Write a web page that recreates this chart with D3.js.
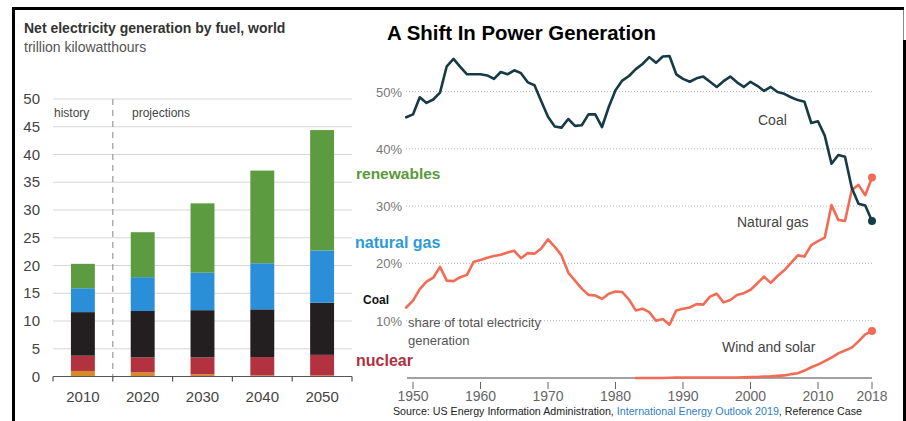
<!DOCTYPE html>
<html>
<head>
<meta charset="utf-8">
<script src="https://cdn.jsdelivr.net/npm/d3@7"></script>
<style>
  html, body { margin: 0; padding: 0; background: #fff; }
  svg { display: block; font-family: "Liberation Sans", Arial, sans-serif; }
</style>
</head>
<body>
<svg id="chart" width="906" height="421"></svg>
<script>
// ---- Left panel: net electricity generation by fuel, world (trillion kWh)
const barYears = ["2010", "2020", "2030", "2040", "2050"];
const fuelKeys = ["other", "nuclear", "coal", "naturalGas", "renewables"];
const otherVals      = [1.0, 0.75, 0.4, 0.2, 0.2];
const nuclearVals    = [2.75, 2.7, 3.05, 3.3, 3.7];
const coalVals       = [7.85, 8.35, 8.5, 8.6, 9.4];
const naturalGasVals = [4.3, 6.1, 6.75, 8.3, 9.4];
const renewableVals  = [4.4, 8.1, 12.5, 16.7, 21.7];
const barTicks = [0, 5, 10, 15, 20, 25, 30, 35, 40, 45, 50];

// ---- Right panel: US share of total electricity generation (%)
const coalStart = 1949;
const coalShare = [
  45.5, 46.0, 49.0, 48.0, 48.6, 49.8, 54.4, 55.7, 54.3, 53.0,
  53.0, 53.0, 52.8, 52.2, 53.4, 53.0, 53.7, 53.2, 51.6, 51.1,
  48.3, 45.6, 43.9, 43.7, 45.2, 44.0, 44.1, 46.0, 46.0, 43.8,
  47.3, 50.2, 51.9, 52.7, 53.9, 54.8, 56.0, 55.0, 56.1, 56.2,
  53.0, 52.2, 51.7, 52.3, 52.6, 51.7, 50.8, 51.8, 52.6, 51.6,
  50.8, 51.7, 51.0, 50.1, 50.8, 49.9, 49.6, 49.0, 48.5, 48.2,
  44.5, 44.8, 42.3, 37.4, 38.9, 38.6, 33.2, 30.4, 30.1, 27.4
];
const gasStart = 1949;
const gasShare = [
  12.3, 13.5, 15.5, 16.8, 17.5, 19.4, 17.0, 16.9, 17.6, 18.0,
  20.3, 20.6, 21.0, 21.3, 21.5, 21.9, 22.2, 20.9, 21.8, 21.7,
  22.6, 24.2, 22.9, 21.4, 18.4, 17.0, 15.6, 14.5, 14.4, 13.8,
  14.7, 15.1, 15.0, 13.7, 11.8, 12.1, 11.5, 10.0, 10.3, 9.3,
  11.8, 12.1, 12.3, 12.9, 12.8, 14.2, 14.7, 13.2, 13.6, 14.5,
  14.8, 15.4, 16.5, 17.7, 16.6, 17.8, 18.8, 20.1, 21.4, 21.2,
  23.2, 23.9, 24.5, 30.2, 27.6, 27.4, 32.8, 33.7, 31.9, 35.0
];
const windSolarStart = 1983;
const windSolarShare = [
  0.0, 0.0, 0.0, 0.0, 0.0, 0.05, 0.06, 0.08, 0.09, 0.1,
  0.1, 0.1, 0.1, 0.1, 0.1, 0.1, 0.12, 0.15, 0.18, 0.27,
  0.29, 0.37, 0.45, 0.67, 0.82, 1.3, 1.87, 2.35, 2.95, 3.56,
  4.3, 4.8, 5.3, 6.4, 7.6, 8.2
];
const shareTicks = [10, 20, 30, 40, 50];
const yearTicks = [1950, 1960, 1970, 1980, 1990, 2000, 2010, 2018];

const svg = d3.select("#chart");

// ================= Left panel =================
const fuelColor = d3.scaleOrdinal()
  .domain(fuelKeys)
  .range(["#d88a2b", "#b3323f", "#231f20", "#2a8fd8", "#5c9b3f"]);

const barRows = barYears.map((y, i) => ({
  year: y,
  other: otherVals[i],
  nuclear: nuclearVals[i],
  coal: coalVals[i],
  naturalGas: naturalGasVals[i],
  renewables: renewableVals[i]
}));
const stacked = d3.stack().keys(fuelKeys)(barRows);

const bx = d3.scaleBand().domain(barYears).range([53, 352])
  .paddingInner(0.6).paddingOuter(0.3);
const by = d3.scaleLinear().domain([0, 50]).range([376.5, 99]);

const left = svg.append("g");

left.append("text").attr("x", 24).attr("y", 33)
  .attr("font-size", 14).attr("font-weight", "bold").attr("fill", "#333")
  .text("Net electricity generation by fuel, world");
left.append("text").attr("x", 24).attr("y", 52)
  .attr("font-size", 14).attr("fill", "#555")
  .text("trillion kilowatthours");

// gridlines
left.append("g").selectAll("line").data(barTicks.filter(t => t > 0)).join("line")
  .attr("x1", 53).attr("x2", 352)
  .attr("y1", d => by(d)).attr("y2", d => by(d))
  .attr("stroke", "#d6d6d6").attr("stroke-width", 1);

// tick labels
left.append("g").selectAll("text").data(barTicks).join("text")
  .attr("x", 40).attr("y", d => by(d) + 5)
  .attr("text-anchor", "end").attr("font-size", 15).attr("fill", "#444")
  .text(d => d);

// history / projections divider
const step = bx.step();
const divX = bx("2020") - step * 0.3;
left.append("line")
  .attr("x1", divX).attr("x2", divX).attr("y1", 99).attr("y2", 376.5)
  .attr("stroke", "#999").attr("stroke-width", 1.2).attr("stroke-dasharray", "6,5");
left.append("text").attr("x", 54).attr("y", 117).attr("font-size", 12).attr("fill", "#444").text("history");
left.append("text").attr("x", 132).attr("y", 117).attr("font-size", 12).attr("fill", "#444").text("projections");

// stacked bars
left.append("g").selectAll("g").data(stacked).join("g")
  .attr("fill", d => fuelColor(d.key))
  .selectAll("rect").data(d => d).join("rect")
  .attr("x", d => bx(d.data.year))
  .attr("width", bx.bandwidth())
  .attr("y", d => by(d[1]))
  .attr("height", d => by(d[0]) - by(d[1]));

// x axis
left.append("line").attr("x1", 53).attr("x2", 352)
  .attr("y1", by(0)).attr("y2", by(0)).attr("stroke", "#555").attr("stroke-width", 1.2);
const bounds = barYears.map(y => bx(y) - step * 0.3).concat([bx(barYears[barYears.length - 1]) + bx.bandwidth() + step * 0.3]);
left.append("g").selectAll("line").data(bounds).join("line")
  .attr("x1", d => d).attr("x2", d => d)
  .attr("y1", by(0)).attr("y2", by(0) + 5)
  .attr("stroke", "#555").attr("stroke-width", 1.2);
left.append("g").selectAll("text").data(barYears).join("text")
  .attr("x", d => bx(d) + bx.bandwidth() / 2).attr("y", 402)
  .attr("text-anchor", "middle").attr("font-size", 15).attr("fill", "#444")
  .text(d => d);

// ================= Right panel =================
const right = svg.append("g");
const rx = d3.scaleLinear().domain([1950, 2018]).range([413, 872]);
const ry = d3.scaleLinear().domain([0, 50]).range([378, 91.5]);

// fuel legend for the bars
const legend = [
  { text: "renewables", key: "renewables", x: 356, y: 179, size: 15.5, color: "#5a9a3c" },
  { text: "natural gas", key: "naturalGas", x: 355, y: 248, size: 16, color: "#2d9ad6" },
  { text: "Coal", key: "coal", x: 363, y: 304, size: 12, color: "#111" },
  { text: "nuclear", key: "nuclear", x: 356, y: 366, size: 16, color: "#b0303f" }
];

right.append("text").attr("x", 387).attr("y", 40)
  .attr("font-size", 20).attr("font-weight", "bold").attr("fill", "#000")
  .attr("textLength", 269).attr("lengthAdjust", "spacingAndGlyphs")
  .text("A Shift In Power Generation");

// dotted gridlines
right.append("g").selectAll("line").data(shareTicks).join("line")
  .attr("x1", 406).attr("x2", 872)
  .attr("y1", d => ry(d)).attr("y2", d => ry(d))
  .attr("stroke", "#bbb").attr("stroke-width", 1).attr("stroke-dasharray", "1,2");
right.append("g").selectAll("text").data(shareTicks).join("text")
  .attr("x", 402).attr("y", d => ry(d) + 5)
  .attr("text-anchor", "end").attr("font-size", 13).attr("fill", "#777")
  .text(d => d + "%");

right.append("g").selectAll("text").data(legend).join("text")
  .attr("x", d => d.x).attr("y", d => d.y)
  .attr("font-size", d => d.size).attr("font-weight", "bold").attr("fill", d => d.color)
  .text(d => d.text);

// x axis
right.append("line").attr("x1", 407).attr("x2", 872)
  .attr("y1", ry(0)).attr("y2", ry(0)).attr("stroke", "#444").attr("stroke-width", 1);
right.append("g").selectAll("line").data(yearTicks).join("line")
  .attr("x1", d => rx(d)).attr("x2", d => rx(d))
  .attr("y1", 382).attr("y2", 389)
  .attr("stroke", "#666").attr("stroke-width", 1);
right.append("g").selectAll("text").data(yearTicks).join("text")
  .attr("x", d => rx(d)).attr("y", 401)
  .attr("text-anchor", "middle").attr("font-size", 14).attr("fill", "#666")
  .text(d => d);

// series lines
const line = d3.line().x(d => rx(d.year)).y(d => ry(d.v));
const toPts = (arr, start) => arr.map((v, i) => ({ year: start + i, v }));
const series = [
  { pts: toPts(windSolarShare, windSolarStart), color: "#f26b55" },
  { pts: toPts(gasShare, gasStart), color: "#f26b55" },
  { pts: toPts(coalShare, coalStart), color: "#163b46" }
];
series.forEach(s => {
  right.append("path").datum(s.pts)
    .attr("d", line).attr("fill", "none")
    .attr("stroke", s.color).attr("stroke-width", 2.6)
    .attr("stroke-linejoin", "round").attr("stroke-linecap", "round");
  const last = s.pts[s.pts.length - 1];
  right.append("circle").attr("cx", rx(last.year)).attr("cy", ry(last.v))
    .attr("r", 4).attr("fill", s.color);
});

// series annotations
right.append("text").attr("x", 758).attr("y", 125).attr("font-size", 14).attr("fill", "#444").text("Coal");
right.append("text").attr("x", 737).attr("y", 227).attr("font-size", 14).attr("fill", "#444").text("Natural gas");
right.append("text").attr("x", 722).attr("y", 352).attr("font-size", 14).attr("fill", "#444").text("Wind and solar");
right.append("text").attr("x", 408).attr("y", 327).attr("font-size", 13).attr("fill", "#555").text("share of total electricity");
right.append("text").attr("x", 408).attr("y", 345).attr("font-size", 13).attr("fill", "#555").text("generation");

// source note
const src = right.append("text").attr("x", 393).attr("y", 415)
  .attr("font-size", 10.5).attr("fill", "#222")
  .attr("textLength", 469).attr("lengthAdjust", "spacingAndGlyphs");
src.append("tspan").text("Source: US Energy Information Administration, ");
src.append("tspan").attr("fill", "#2f80c8").text("International Energy Outlook 2019");
src.append("tspan").text(", Reference Case");

// ================= Frame =================
const frame = svg.append("g").attr("fill", "#000");
frame.append("rect").attr("x", 12).attr("y", 7).attr("width", 892).attr("height", 3);
frame.append("rect").attr("x", 12).attr("y", 7).attr("width", 3).attr("height", 414);
frame.append("rect").attr("x", 903).attr("y", 40).attr("width", 3).attr("height", 381);
svg.append("line").attr("x1", 903.5).attr("x2", 903.5).attr("y1", 10).attr("y2", 40)
  .attr("stroke", "#888").attr("stroke-width", 1);
</script>
</body>
</html>
